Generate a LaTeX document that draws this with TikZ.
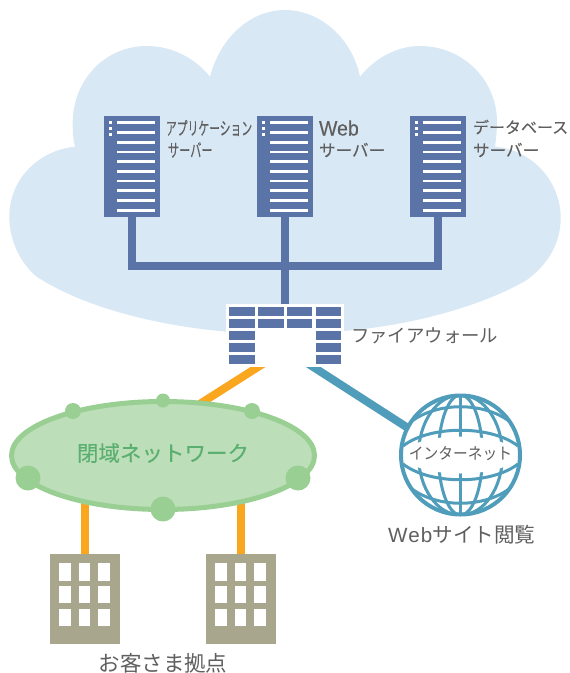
\documentclass[tikz,border=0pt]{standalone}
\usepackage{fontspec}
\setmainfont{Noto Sans CJK JP}
\newfontfamily\latinf{Liberation Sans}
\newfontfamily\srvf[FakeBold=0.2]{Noto Sans CJK JP}
\newfontfamily\srvl[FakeBold=0.2]{Liberation Sans}
\usetikzlibrary{shapes.geometric,calc}
\pgfdeclarelayer{cloudlayer}
\pgfdeclarelayer{connlayer}
\pgfsetlayers{cloudlayer,connlayer,main}
\definecolor{cloudc}{HTML}{D9E8F5}
\definecolor{srv}{HTML}{5A74A8}
\definecolor{teal1}{HTML}{4F9DBB}
\definecolor{orange1}{HTML}{FAA61E}
\definecolor{gstroke}{HTML}{9ACF94}
\definecolor{gfill}{HTML}{BCDEB8}
\definecolor{gtext}{HTML}{5BAF70}
\definecolor{bldg}{HTML}{A8A68C}
\definecolor{txt}{HTML}{5F5F5F}
\tikzset{
 sz/.style={font=\fontsize{#1}{#1}\selectfont},
 szs/.style={font=\fontsize{#1}{#1}\srvf},
 lbl/.style={text=txt,inner sep=0pt,outer sep=0pt,anchor=west},
 server/.style={fill=srv,draw=none,rectangle,minimum width=56pt,minimum height=101pt,inner sep=0pt},
 building/.style={fill=bldg,draw=none,rectangle,minimum width=70pt,minimum height=90pt,inner sep=0pt},
 bluelink/.style={draw=srv,line width=8pt},
 orangelink/.style={draw=orange1,line width=8pt},
 teallink/.style={draw=teal1,line width=8pt},
 gdot/.style={circle,fill=gstroke,draw=none,inner sep=0pt,minimum size=#1},
 brick/.style={fill=srv,draw=none},
 gl/.style={draw=teal1,line width=3pt},
}
\begin{document}
\begin{tikzpicture}[x=1pt,y=-1pt]
\useasboundingbox (0,0) rectangle (570,673);
% cloud
\begin{pgfonlayer}{cloudlayer}
\fill[cloudc] (75,146.7) .. controls (73,139) and (72.7,131) .. (72.7,123)
 .. controls (72.7,80) and (105,46) .. (146.7,46)
 .. controls (172,46) and (195,58) .. (210,76.7)
 .. controls (220,38) and (250,10) .. (285,10)
 .. controls (320,10) and (352,38) .. (360,76.7)
 .. controls (375,58) and (397,46) .. (420,46)
 .. controls (463,46) and (497,80) .. (497,122)
 .. controls (497,131) and (496,139) .. (495,146.7)
 .. controls (533,150) and (560.7,182) .. (560.7,218)
 .. controls (560.7,245) and (546,266) .. (526.7,280)
 .. controls (490,302) and (420,325) .. (343,331)
 -- (226.7,331.7)
 .. controls (150,325) and (80,305) .. (36.7,276.7)
 .. controls (20,263) and (9.3,240) .. (9.3,216.7)
 .. controls (9.3,178) and (40,150) .. (75,146.7) -- cycle;
\end{pgfonlayer}
% servers
\foreach \n/\x in {s1/132,s2/285,s3/438}{
 \node[server] (\n) at (\x,166.5) {};
 \foreach \y in {122.7,132.3,142.3,152,161.7,171.3,181,190.7,200.7,210.3}
  \fill[white] (\x-15,\y-1.25) rectangle (\x+23.3,\y+1.25);
 \foreach \y in {122,128,134}
  \fill[white] (\x-23.5,\y-1.5) rectangle (\x-20.5,\y+1.5);
}
% firewall
\node[fill=white,draw=none,rectangle,minimum width=118pt,minimum height=63pt,inner sep=0pt] (fw) at (285,335.5) {};
\foreach \x in {229,315.7}
 \foreach \y in {307.3,319.3,331.3,343.3,355.3}
  \fill[brick] (\x,\y) rectangle +(25.6,8.7);
\foreach \x in {258,286.7}
 \foreach \y in {307.3,319.3}
  \fill[brick] (\x,\y) rectangle +(25.6,8.7);
% network
\node[ellipse,draw=gstroke,fill=gfill,line width=5pt,minimum width=303pt,minimum height=108pt,inner sep=0pt] (net) at (163,455.5) {};
\node[gdot=16pt] (d1) at (73,411) {};
\node[gdot=14pt] (d2) at (163,400.5) {};
\node[gdot=16pt] (d3) at (252,411) {};
\node[gdot=25pt] (d4) at (28,478) {};
\node[gdot=25pt] (d5) at (298,478) {};
\node[gdot=25pt] (d6) at (163,509) {};
\node[text=gtext,inner sep=0pt,szs=21.5] (nett) at (163,453) {閉域ネットワーク};
% buildings
\foreach \n/\x in {b1/85,b2/241}{
 \node[building] (\n) at (\x,599) {};
 \foreach \dx in {-25.7,-6,13.3}
  \foreach \y in {563.3,586,609}
   \fill[white] (\x+\dx,\y) rectangle +(11.4,17.4);
}
% globe
\node[circle,draw=teal1,fill=white,line width=4pt,minimum size=119pt,inner sep=0pt] (globe) at (460.5,455) {};
\begin{scope}
\clip (460.5,455) circle (59.5);
\draw[gl] (460.5,395) -- (460.5,515);
\draw[gl] (460.5,455) ellipse (22 and 60);
\draw[gl] (460.5,455) ellipse (42 and 60);
\draw[gl] (403,446) .. controls (430,425) and (491,425) .. (518,446);
\draw[gl] (403,464) .. controls (430,485) and (491,485) .. (518,464);
\draw[gl] (412,421) .. controls (438,402) and (483,402) .. (509,421);
\draw[gl] (412,489) .. controls (438,508) and (483,508) .. (509,489);
\fill[white] (460.5,455) ellipse (57 and 18.5);
\end{scope}
\node[inner sep=0pt,text=txt,sz=16,xscale=.92,transform shape] (globet) at (460.5,454) {インターネット};
% labels
\node[lbl,szs=18,xscale=.6,transform shape] (t1a) at (166,128) {アプリケーション};
\node[lbl,szs=18,xscale=.62,transform shape] (t1b) at (168,150) {サーバー};
\node[lbl,font=\fontsize{21}{21}\srvl,xscale=.93,transform shape] (t2a) at (319,128) {Web};
\node[lbl,szs=16.6] (t2b) at (319,150) {サーバー};
\node[lbl,szs=16] (t3a) at (473,127) {データベース};
\node[lbl,szs=16.6] (t3b) at (473,150) {サーバー};
\node[lbl,sz=18.4] (t4) at (351,336) {ファイアウォール};
\node[lbl,sz=20.6] (t5) at (388,535) {{\latinf\addfontfeature{LetterSpace=6}Web}サイト閲覧};
\node[inner sep=0pt,text=txt,sz=21.5] (t6) at (163,663) {お客さま拠点};
% connectors
\coordinate (bus) at (285,266);
\coordinate (fwo) at (280,353);
\coordinate (neto) at (195,407);
\coordinate (fwt) at (290,352);
\coordinate (glt) at (408,428);
\begin{pgfonlayer}{connlayer}
\draw[bluelink] (s1.south) |- (bus) -| (s3.south);
\draw[bluelink] (s2.south) -- (fw.north);
\draw[orangelink] (fwo) -- (neto);
\draw[teallink] (fwt) -- (glt);
\draw[orangelink] (b1.north) -- (b1.north |- net.center);
\draw[orangelink] (b2.north) -- (b2.north |- net.center);
\end{pgfonlayer}
\end{tikzpicture}
\end{document}
